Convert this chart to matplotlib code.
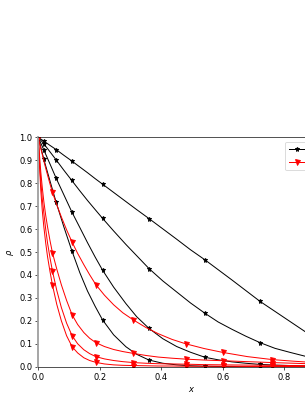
import matplotlib
matplotlib.use("Agg")
import matplotlib.pyplot as plt

# black curves (star markers)
x_black = [0.0, 0.018, 0.038, 0.058, 0.083, 0.109, 0.135, 0.16, 0.185, 0.209,
           0.245, 0.285, 0.32, 0.36, 0.405, 0.45, 0.495, 0.542, 0.585, 0.63,
           0.675, 0.721, 0.77, 0.82, 0.87, 0.92, 1.0]
black_marks = [0, 1, 3, 5, 9, 13, 17, 21]
b1 = [1.0, 0.984, 0.965, 0.947, 0.922, 0.897, 0.871, 0.846, 0.82, 0.796,
      0.76, 0.72, 0.685, 0.646, 0.601, 0.556, 0.51, 0.466, 0.423, 0.378,
      0.332, 0.285, 0.241, 0.196, 0.151, 0.105, 0.0]
b2 = [1.0, 0.972, 0.937, 0.902, 0.857, 0.812, 0.767, 0.725, 0.685, 0.647,
      0.592, 0.533, 0.484, 0.428, 0.374, 0.326, 0.278, 0.233, 0.195, 0.163,
      0.133, 0.105, 0.08, 0.062, 0.045, 0.03, 0.0]
b3 = [1.0, 0.945, 0.884, 0.822, 0.75, 0.675, 0.607, 0.541, 0.478, 0.421,
      0.347, 0.275, 0.218, 0.167, 0.122, 0.088, 0.063, 0.041, 0.03, 0.021,
      0.015, 0.01, 0.007, 0.005, 0.003, 0.002, 0.0]
b4 = [1.0, 0.904, 0.81, 0.717, 0.61, 0.506, 0.41, 0.33, 0.263, 0.204,
      0.139, 0.087, 0.054, 0.029, 0.015, 0.008, 0.004, 0.002, 0.001, 0.001,
      0.0, 0.0, 0.0, 0.0, 0.0, 0.0, 0.0]

# red curves (triangle markers)
x_red = [0.0, 0.004, 0.008, 0.013, 0.018, 0.024, 0.03, 0.038, 0.046, 0.06,
         0.075, 0.092, 0.110, 0.128, 0.148, 0.167, 0.187, 0.215, 0.245, 0.275,
         0.309, 0.35, 0.39, 0.435, 0.479, 0.54, 0.601, 0.68, 0.761, 0.83,
         0.9, 1.0]
red_marks = [0, 8, 12, 16, 20, 24, 26, 28]
rA = [1.0, 0.976, 0.953, 0.925, 0.897, 0.866, 0.836, 0.797, 0.76, 0.706,
      0.653, 0.597, 0.543, 0.494, 0.445, 0.401, 0.358, 0.312, 0.27, 0.235,
      0.204, 0.171, 0.144, 0.119, 0.1, 0.079, 0.062, 0.044, 0.031, 0.024,
      0.018, 0.012]
rB = [1.0, 0.92, 0.85, 0.78, 0.72, 0.66, 0.61, 0.55, 0.497, 0.426,
      0.357, 0.289, 0.226, 0.184, 0.149, 0.124, 0.105, 0.088, 0.075, 0.066,
      0.058, 0.049, 0.042, 0.037, 0.033, 0.029, 0.026, 0.022, 0.018, 0.015,
      0.012, 0.008]
rC = [1.0, 0.89, 0.81, 0.73, 0.67, 0.6, 0.54, 0.475, 0.417, 0.333,
      0.258, 0.19, 0.135, 0.1, 0.074, 0.057, 0.044, 0.034, 0.027, 0.022,
      0.018, 0.015, 0.013, 0.012, 0.011, 0.009, 0.008, 0.007, 0.006, 0.005,
      0.004, 0.003]
rD = [1.0, 0.87, 0.77, 0.68, 0.61, 0.54, 0.48, 0.415, 0.356, 0.272,
      0.2, 0.135, 0.087, 0.06, 0.039, 0.027, 0.019, 0.012, 0.008, 0.006,
      0.005, 0.004, 0.003, 0.003, 0.002, 0.002, 0.002, 0.001, 0.001, 0.001,
      0.0, 0.0]

labels = ["exact", "model"]

fig = plt.figure(figsize=(305 / 60, 394 / 60), dpi=60)
ax = fig.add_axes([0.1256, 0.0693, 1.008, 0.582])

for i, y in enumerate([b1, b2, b3, b4]):
    ax.plot(x_black, y, "-", color="k", lw=1.2, marker="*", ms=6,
            markevery=black_marks, label=labels[0] if i == 0 else None)
for i, y in enumerate([rA, rB, rC, rD]):
    ax.plot(x_red, y, "-", color="r", lw=1.2, marker="v", ms=6,
            markevery=red_marks, label=labels[1] if i == 0 else None)

ax.set_xlim(0, 1)
ax.set_ylim(0, 1)
ax.set_xticks([0.0, 0.2, 0.4, 0.6, 0.8, 1.0])
ax.set_yticks([i / 10 for i in range(11)])
ax.set_xlabel("$x$")
ax.set_ylabel(r"$\rho$")
ax.spines["left"].set_color("#a0a0a0")
ax.spines["left"].set_linewidth(2.2)
ax.legend(loc="upper right")

fig.savefig("out.png", dpi=60)
